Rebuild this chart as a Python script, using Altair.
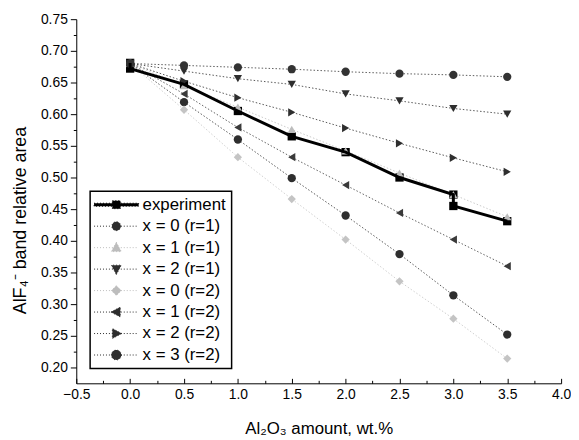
import altair as alt
import pandas as pd

FONT = "Liberation Sans"

series_names = ["experiment", "x = 0 (r=1)", "x = 1 (r=1)", "x = 2 (r=1)",
                "x = 0 (r=2)", "x = 1 (r=2)", "x = 2 (r=2)", "x = 3 (r=2)"]

# experiment
exp_x = [0.0, 0.0, 0.5, 1.0, 1.5, 2.0, 2.5, 3.0, 3.0, 3.5]
exp_y = [0.681, 0.672, 0.647, 0.605, 0.565, 0.540, 0.500, 0.473, 0.455, 0.431]

# simulations
sim_x = [0.0, 0.5, 1.0, 1.5, 2.0, 2.5, 3.0, 3.5]
sim_x0_r1 = [0.680, 0.619, 0.560, 0.499, 0.440, 0.379, 0.314, 0.252]
sim_x1_r1 = [0.680, 0.645, 0.611, 0.576, 0.542, 0.507, 0.473, 0.438]
sim_x2_r1 = [0.680, 0.668, 0.656, 0.647, 0.632, 0.621, 0.609, 0.600]
sim_x0_r2 = [0.680, 0.607, 0.532, 0.466, 0.402, 0.336, 0.277, 0.214]
sim_x1_r2 = [0.680, 0.632, 0.579, 0.532, 0.488, 0.444, 0.402, 0.360]
sim_x2_r2 = [0.680, 0.652, 0.626, 0.603, 0.578, 0.554, 0.531, 0.509]
sim_x3_r2 = [0.680, 0.677, 0.674, 0.671, 0.667, 0.664, 0.662, 0.659]

series_colors = ["#000000", "#2e2e2e", "#bdbdbd", "#2e2e2e",
                 "#c4c4c4", "#3a3a3a", "#2e2e2e", "#333333"]
series_shapes = ["square", "circle", "triangle-up", "triangle-down",
                 "diamond", "triangle-left", "triangle-right", "circle"]
legend_paths = [
    "M-4.5,-0.3H4.5V0.3H-4.5Z M-0.8,-0.8H0.8V0.8H-0.8Z",
    "M-4.5,0H4.5 M0.9,0A0.9,0.9,0,1,1,-0.9,0A0.9,0.9,0,1,1,0.9,0Z",
    "M-4.5,0H4.5 M0,-1.1L1,0.8H-1Z",
    "M-4.5,0H4.5 M0,1.1L1,-0.8H-1Z",
    "M-4.5,0H4.5 M0,-1L1,0L0,1L-1,0Z",
    "M-4.5,0H4.5 M-1.1,0L0.8,-1V1Z",
    "M-4.5,0H4.5 M1.1,0L-0.8,-1V1Z",
    "M-4.5,0H4.5 M1,0A1,1,0,1,1,-1,0A1,1,0,1,1,1,0Z",
]

x_major = [-0.5, 0.0, 0.5, 1.0, 1.5, 2.0, 2.5, 3.0, 3.5, 4.0]
x_all_ticks = [-0.5, -0.25, 0.0, 0.25, 0.5, 0.75, 1.0, 1.25, 1.5, 1.75, 2.0,
               2.25, 2.5, 2.75, 3.0, 3.25, 3.5, 3.75, 4.0]
y_all_ticks = [0.2, 0.225, 0.25, 0.275, 0.3, 0.325, 0.35, 0.375, 0.4, 0.425,
               0.45, 0.475, 0.5, 0.525, 0.55, 0.575, 0.6, 0.625, 0.65, 0.675,
               0.7, 0.725, 0.75]

rows = []
for i, (xx, yy) in enumerate(zip(exp_x, exp_y)):
    rows.append({"series": "experiment", "x": xx, "y": yy, "idx": i})
for name, vals in zip(series_names[1:], [sim_x0_r1, sim_x1_r1, sim_x2_r1, sim_x0_r2,
                                         sim_x1_r2, sim_x2_r2, sim_x3_r2]):
    for i, (xx, yy) in enumerate(zip(sim_x, vals)):
        rows.append({"series": name, "x": xx, "y": yy, "idx": i})
df = pd.DataFrame(rows)

Y_MAJOR = "abs(datum.value*20 - round(datum.value*20)) < 0.001"
X_MAJOR = "abs(datum.value*2 - round(datum.value*2)) < 0.001"
SYM_COLOR = ("indexof(['x = 1 (r=1)', 'x = 0 (r=2)'], datum.value) >= 0 ? '#bdbdbd' : "
             "(datum.value == 'experiment' ? '#000000' : '#2e2e2e')")

x_scale = alt.Scale(domain=[-0.5, 4.0], nice=False, zero=False)
y_scale = alt.Scale(domain=[0.175, 0.75], nice=False, zero=False)

x_main = alt.X("x:Q", scale=x_scale, axis=alt.Axis(
    orient="bottom", values=x_major, format=".1f", ticks=False, tickSize=0,
    labelPadding=4, labelFontSize=14, labelFont=FONT, labelColor="black",
    labelFlush=False, labelOverlap=False,
    domainColor="black", domainWidth=1, grid=False,
    title="Al₂O₃ amount, wt.%", titleFont=FONT, titleFontSize=17,
    titleFontWeight="normal", titleColor="black", titleY=51,
    titleBaseline="alphabetic"))

x_top = alt.X("x:Q", scale=x_scale, axis=alt.Axis(
    orient="top", offset=-368, values=x_all_ticks, labels=False, domain=False,
    ticks=True, tickColor="black", tickWidth=1,
    tickSize={"condition": {"test": X_MAJOR, "value": 5}, "value": 3},
    grid=False, title=None))

y_enc = alt.Y("y:Q", scale=y_scale, axis=alt.Axis(
    values=y_all_ticks,
    labelExpr=Y_MAJOR + " ? format(datum.value, '.2f') : ''",
    tickSize={"condition": {"test": Y_MAJOR, "value": 6}, "value": 3},
    tickColor="black", tickWidth=1, labelPadding=3, labelFontSize=14,
    labelFont=FONT, labelColor="black", labelFlush=False, labelOverlap=False,
    domainColor="black", domainWidth=1, grid=False,
    title="AlF₄⁻ band relative area", titleFont=FONT, titleFontSize=18,
    titleFontWeight="normal", titleColor="black", titleX=-56, titleY=203,
    titleBaseline="middle"))

color_enc = alt.Color("series:N", scale=alt.Scale(domain=series_names, range=series_colors),
                      legend=None)

base = alt.Chart(df)

sim_lines = base.transform_filter("datum.series != 'experiment'").mark_line(
    strokeWidth=1, strokeDash=[1.5, 2], strokeOpacity=0.8
).encode(x=x_main, y=y_enc, color=color_enc, order="idx:Q")

points = base.mark_point(filled=True, size=70, opacity=1).encode(
    x=x_main, y=y_enc, color=color_enc,
    shape=alt.Shape("series:N", scale=alt.Scale(domain=series_names, range=series_shapes),
                    legend=None))

exp_line = base.transform_filter("datum.series == 'experiment'").mark_line(
    strokeWidth=3, color="black"
).encode(x=x_main, y=y_enc, order="idx:Q")

inner = alt.layer(sim_lines, points, exp_line)

leg = alt.Legend(orient="none", legendX=14, legendY=174, title=None, padding=5,
                 rowPadding=3.7, symbolSize=100, symbolOffset=13, labelOffset=18,
                 labelFontSize=17, labelFont=FONT, labelColor="black",
                 symbolDash=[1, 2], symbolStrokeWidth=1, symbolOpacity=1,
                 strokeColor="black", fillColor="white")

legend_layer = base.mark_point(
    filled=True, opacity=0,
    fill=alt.ExprRef(SYM_COLOR), stroke=alt.ExprRef(SYM_COLOR)
).encode(
    x=x_top, y=y_enc,
    shape=alt.Shape("series:N", scale=alt.Scale(domain=series_names, range=legend_paths), legend=leg),
)

chart = alt.layer(inner, legend_layer).resolve_scale(
    shape="independent"
).resolve_axis(
    x="independent"
).properties(
    width=490, height=368,
    autosize=alt.AutoSizeParams(type="none"),
    padding={"left": 69, "top": 9, "right": 10, "bottom": 55},
    background="white",
).configure_view(stroke=None).configure_legend(strokeWidth=1.5)

chart.save("out.html", embed_options={"renderer": "svg", "actions": False})
